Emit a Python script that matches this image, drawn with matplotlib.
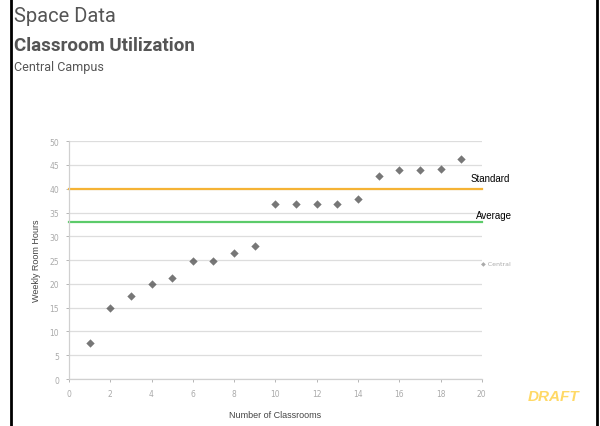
import matplotlib.pyplot as plt
from matplotlib.lines import Line2D

classrooms = [1, 2, 3, 4, 5, 6, 7, 8, 9, 10, 11, 12, 13, 14, 15, 16, 17, 18, 19]
hours = [7.6, 15.0, 17.4, 20.0, 21.2, 24.8, 24.8, 26.5, 28.0, 36.8, 36.8, 36.8,
         36.8, 37.8, 42.6, 43.9, 43.9, 44.1, 46.2]
standard = 40
average = 33
x_ticks = list(range(0, 21, 2))
y_ticks = list(range(0, 51, 5))

head = ["Roboto", "DejaVu Sans"]
plain = ["Liberation Sans", "DejaVu Sans"]

fig = plt.figure(figsize=(6.0, 4.27), dpi=100)
ax = fig.add_axes([0.115, 0.110, 0.688, 0.557])

# Header
fig.text(0.023, 0.962, "Space Data", family=head, fontsize=14.5, color="#555555",
         va="center")
fig.text(0.023, 0.892, "Classroom Utilization", family=head, fontsize=13.5,
         fontweight="bold", color="#555555", va="center")
fig.text(0.023, 0.843, "Central Campus", family=head, fontsize=9, color="#555555",
         va="center")

# Page frame (left/right rules)
fig.add_artist(Line2D([0.019, 0.019], [0, 1], color="black", lw=2,
                      transform=fig.transFigure))
fig.add_artist(Line2D([0.995, 0.995], [0, 1], color="black", lw=2,
                      transform=fig.transFigure))

ax.scatter(classrooms, hours, marker="D", s=18, color="#555555", alpha=0.8,
           linewidths=0, zorder=3)

ax.axhline(standard, color="#f5b335", lw=1.6, zorder=2, clip_on=False)
ax.axhline(average, color="#5ccb6a", lw=1.6, zorder=2, clip_on=False)
ax.text(19.45, standard + 1.3, "Standard", family=plain, fontsize=7, color="black",
        va="bottom", ha="left", clip_on=False)
ax.text(19.7, average + 0.5, "Average", family=plain, fontsize=7, color="black",
        va="bottom", ha="left", clip_on=False)

ax.set_xlim(0, 20)
ax.set_ylim(0, 50)
ax.set_xticks(x_ticks)
ax.set_yticks(y_ticks)
ax.tick_params(labelsize=5.5, colors="#aaaaaa", length=2, width=0.6, pad=5)
ax.grid(axis="y", color="#dddddd", lw=0.9)
ax.set_axisbelow(True)
for side in ["top", "right"]:
    ax.spines[side].set_visible(False)
for side in ["left", "bottom"]:
    ax.spines[side].set_color("#d0d0d0")
    ax.spines[side].set_linewidth(0.9)

ax.set_ylabel("Weekly Room Hours", family=plain, fontsize=6.5, color="#444444",
              labelpad=6)
ax.set_xlabel("Number of Classrooms", family=plain, fontsize=6.5, color="#444444",
              labelpad=9)

# Faint legend entry
ax.text(19.95, 24.5, "◆ Central", fontsize=4.5, color="#aaaaaa", va="center",
        ha="left", clip_on=False)

fig.text(0.965, 0.070, "DRAFT", family=plain, fontsize=11, fontweight="bold",
         fontstyle="italic", color="#ffd966", ha="right", va="center")

fig.savefig("out.png", dpi=100)
